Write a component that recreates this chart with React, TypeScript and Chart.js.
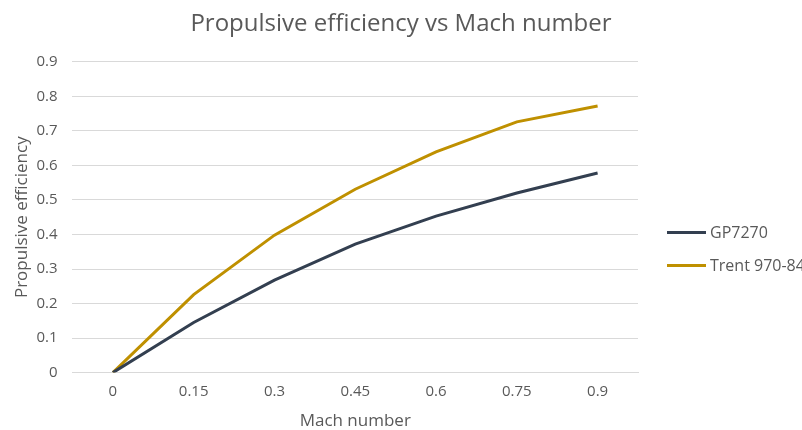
import React, { useEffect, useRef } from "react";
import { Chart, registerables } from "chart.js";

Chart.register(...registerables);

const machNumbers = ["0", "0.15", "0.3", "0.45", "0.6", "0.75", "0.9"];
const gp7270 = [0, 0.145, 0.268, 0.372, 0.453, 0.52, 0.578];
const trent97084 = [0, 0.226, 0.398, 0.531, 0.639, 0.726, 0.772];
const seriesNames = ["GP7270", "Trent 970-84"];
const seriesColors = ["#333F50", "#BF9000"];

const FONT = "'Open Sans', 'Noto Sans', sans-serif";
const TEXT = "#595959";

export default function App() {
  const ref = useRef<HTMLCanvasElement>(null);
  useEffect(() => {
    document.body.style.margin = "0";
    const ctx = ref.current!;
    const chart = new Chart(ctx, {
      type: "line",
      data: {
        labels: machNumbers,
        datasets: [gp7270, trent97084].map((d, i) => ({
          label: seriesNames[i],
          data: d,
          borderColor: seriesColors[i],
          backgroundColor: seriesColors[i],
          borderWidth: 3,
          pointRadius: 0,
          tension: 0,
        })),
      },
      options: {
        animation: false,
        responsive: false,
        layout: { padding: { left: 0, right: 0, top: 4, bottom: -1 } },
        plugins: {
          title: {
            display: true,
            text: "Propulsive efficiency vs Mach number",
            color: TEXT,
            font: { family: FONT, size: 24, weight: "normal" },
            padding: { top: 6, bottom: 23 },
          },
          legend: { display: false },
          tooltip: { enabled: false },
        },
        scales: {
          x: {
            offset: true,
            grid: { display: false, drawTicks: false },
            border: { color: "#D9D9D9" },
            ticks: { color: TEXT, font: { family: FONT, size: 15 }, padding: 10 },
            title: {
              display: true,
              text: "Mach number",
              color: TEXT,
              font: { family: FONT, size: 17 },
              padding: { top: 0, bottom: 0 },
            },
          },
          y: {
            min: 0,
            max: 0.9,
            ticks: {
              stepSize: 0.1,
              color: TEXT,
              font: { family: FONT, size: 15 },
              padding: 15,
            },
            grid: { color: "#D9D9D9", drawTicks: false },
            border: { display: false },
            title: {
              display: true,
              text: "Propulsive efficiency",
              color: TEXT,
              font: { family: FONT, size: 17 },
              padding: { top: 12, bottom: -11 },
            },
          },
          legendSpace: {
            type: "linear",
            position: "right",
            display: true,
            grid: { display: false, drawTicks: false },
            border: { display: false },
            ticks: { display: false },
            afterFit: (scale: any) => {
              scale.width = 164;
            },
          },
        },
      },
    });
    return () => chart.destroy();
  }, []);
  return (
    <div style={{ width: 802, height: 430, position: "relative" }}>
      <canvas ref={ref} width={802} height={430} />
      <div
        style={{
          position: "absolute",
          left: 667,
          top: 220,
          fontFamily: FONT,
          fontSize: 16,
          color: TEXT,
          lineHeight: "24px",
        }}
      >
        {seriesNames.map((name, i) => (
          <div
            key={name}
            style={{ display: "flex", alignItems: "center", marginBottom: 9, whiteSpace: "nowrap" }}
          >
            <span
              style={{
                display: "inline-block",
                width: 39,
                height: 3,
                background: seriesColors[i],
                marginRight: 4,
              }}
            />
            <span>{name}</span>
          </div>
        ))}
      </div>
    </div>
  );
}
